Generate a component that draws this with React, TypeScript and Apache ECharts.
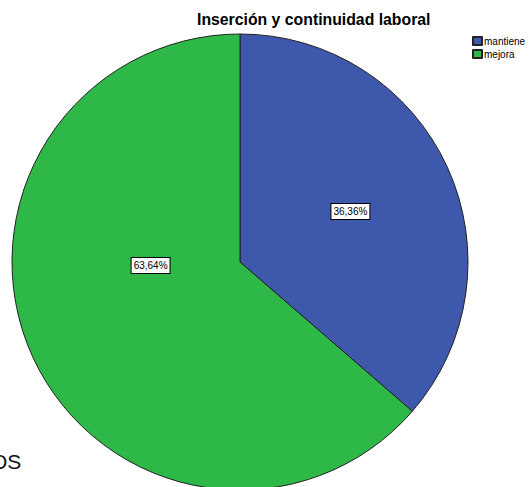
import React, { useEffect, useRef } from "react";
import * as echarts from "echarts";

const categories = ["mantiene", "mejora"];
const percentages = [36.36, 63.64];
const colors = ["#3E58AC", "#2EB848"];
const titleText = "Inserción y continuidad laboral";
const cutText = "OS";

export default function App() {
  const ref = useRef<HTMLDivElement>(null);
  useEffect(() => {
    document.body.style.margin = "0";
    const chart = echarts.init(ref.current!, null, { renderer: "svg" });
    chart.setOption({
      animation: false,
      backgroundColor: "#ffffff",
      title: {
        text: titleText,
        left: 197,
        top: 11,
        padding: 0,
        textStyle: { fontFamily: "Arial, Liberation Sans", fontSize: 15.8, fontWeight: "bold", color: "#000" },
      },
      legend: {
        orient: "vertical",
        left: 472,
        top: 36,
        padding: 0,
        itemWidth: 9,
        itemHeight: 8,
        itemGap: 3,
        icon: "rect",
        textStyle: { fontFamily: "Arial, Liberation Sans", fontSize: 10, color: "#000", padding: [0, 0, 0, -3] },
        data: categories,
      },
      graphic: [
        {
          type: "text",
          x: -9,
          y: 451,
          style: { text: cutText, font: "21px Arial, 'Liberation Sans'", fill: "#111" },
        },
      ],
      series: [
        {
          type: "pie",
          center: [240, 262],
          radius: [0, 228],
          startAngle: 90,
          clockwise: true,
          itemStyle: { borderColor: "#222", borderWidth: 1 },
          emphasis: { disabled: true },
          label: {
            show: true,
            position: "inside",
            formatter: (p: any) => p.value.toFixed(2).replace(".", ",") + "%",
            fontFamily: "Arial, Liberation Sans",
            fontSize: 10,
            color: "#000",
            backgroundColor: "#fff",
            borderColor: "#000",
            borderWidth: 1,
            padding: [3, 2, 2, 2],
          },
          labelLayout: (params: any) => (params.dataIndex === 1 ? { dx: 17, dy: -45 } : { dx: 4, dy: -2 }),
          data: categories.map((c, i) => ({ name: c, value: percentages[i], itemStyle: { color: colors[i] } })),
        },
      ],
    });
    return () => chart.dispose();
  }, []);
  return <div ref={ref} style={{ width: 529, height: 487 }} />;
}
